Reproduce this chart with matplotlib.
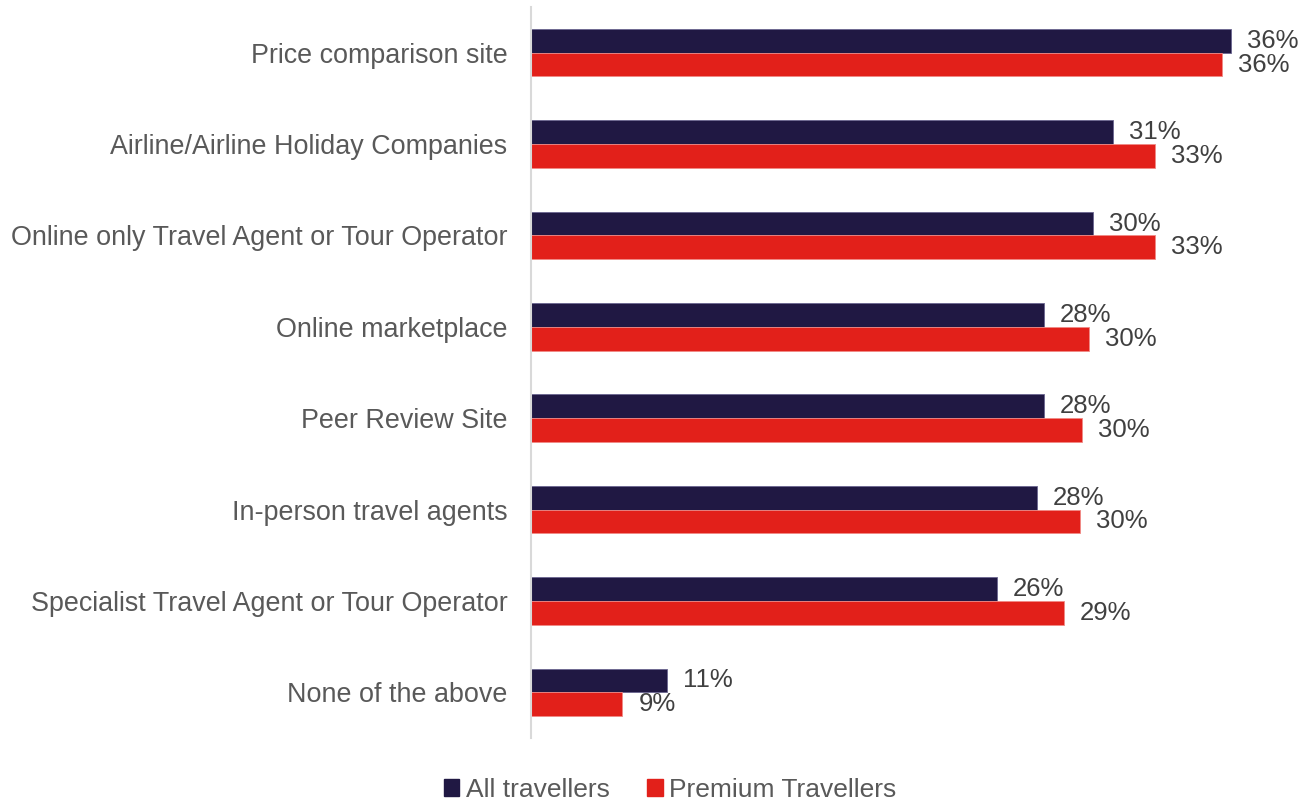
import numpy as np
import matplotlib.pyplot as plt
from matplotlib.patches import Patch

plt.rcParams["font.family"] = ["Liberation Sans", "DejaVu Sans"]

# Données
categories = [
    "Price comparison site",
    "Airline/Airline Holiday Companies",
    "Online only Travel Agent or Tour Operator",
    "Online marketplace",
    "Peer Review Site",
    "In-person travel agents",
    "Specialist Travel Agent or Tour Operator",
    "None of the above",
]
all_travellers = [36.4, 31.1, 30.2, 28.0, 28.0, 27.7, 25.9, 11.1]
premium_travellers = [36.0, 33.0, 33.0, 30.0, 29.7, 29.6, 28.9, 9.1]
series_names = ["All travellers", "Premium Travellers"]

DARK = "#201843"
RED = "#E2201A"
TEXT = "#595959"
LABEL = "#404040"

fig = plt.figure(figsize=(13.01, 8.02), dpi=100)
ax = fig.add_axes([531 / 1301, 1 - 738 / 802, 709 / 1301, 731 / 802])

y = np.arange(len(categories))
h = 0.26

b1 = ax.barh(y - h / 2, all_travellers, height=h, color=DARK,
             edgecolor="#6b6590", linewidth=0.6)
b2 = ax.barh(y + h / 2, premium_travellers, height=h, color=RED,
             edgecolor="#f08a86", linewidth=0.6)

ax.set_xlim(5, 5 + 709 / 22.3)
ax.set_ylim(len(categories) - 0.5, -0.5)

# étiquettes de valeurs
for bars, vals in [(b1, all_travellers), (b2, premium_travellers)]:
    for bar, v in zip(bars, vals):
        ax.annotate(f"{round(v)}%", (v, bar.get_y() + bar.get_height() / 2),
                    xytext=(16, 0), textcoords="offset pixels",
                    ha="left", va="center", fontsize=18.5, color=LABEL,
                    annotation_clip=False)

ax.set_yticks(y)
ax.set_yticklabels(categories, fontsize=19.4, color=TEXT)
ax.tick_params(axis="y", length=0, pad=17)
ax.set_xticks([])

for s in ["top", "right", "bottom"]:
    ax.spines[s].set_visible(False)
ax.spines["left"].set_color("#d9d9d9")
ax.spines["left"].set_linewidth(1.5)

handles = [Patch(color=DARK), Patch(color=RED)]
fig.legend(handles, series_names, loc="center", bbox_to_anchor=(670 / 1301, 1 - 790 / 802),
           ncol=2, frameon=False, fontsize=19, handlelength=0.6, handleheight=0.6,
           handletextpad=0.25, columnspacing=1.4, labelcolor=TEXT)

fig.savefig("out.png", dpi=100)
